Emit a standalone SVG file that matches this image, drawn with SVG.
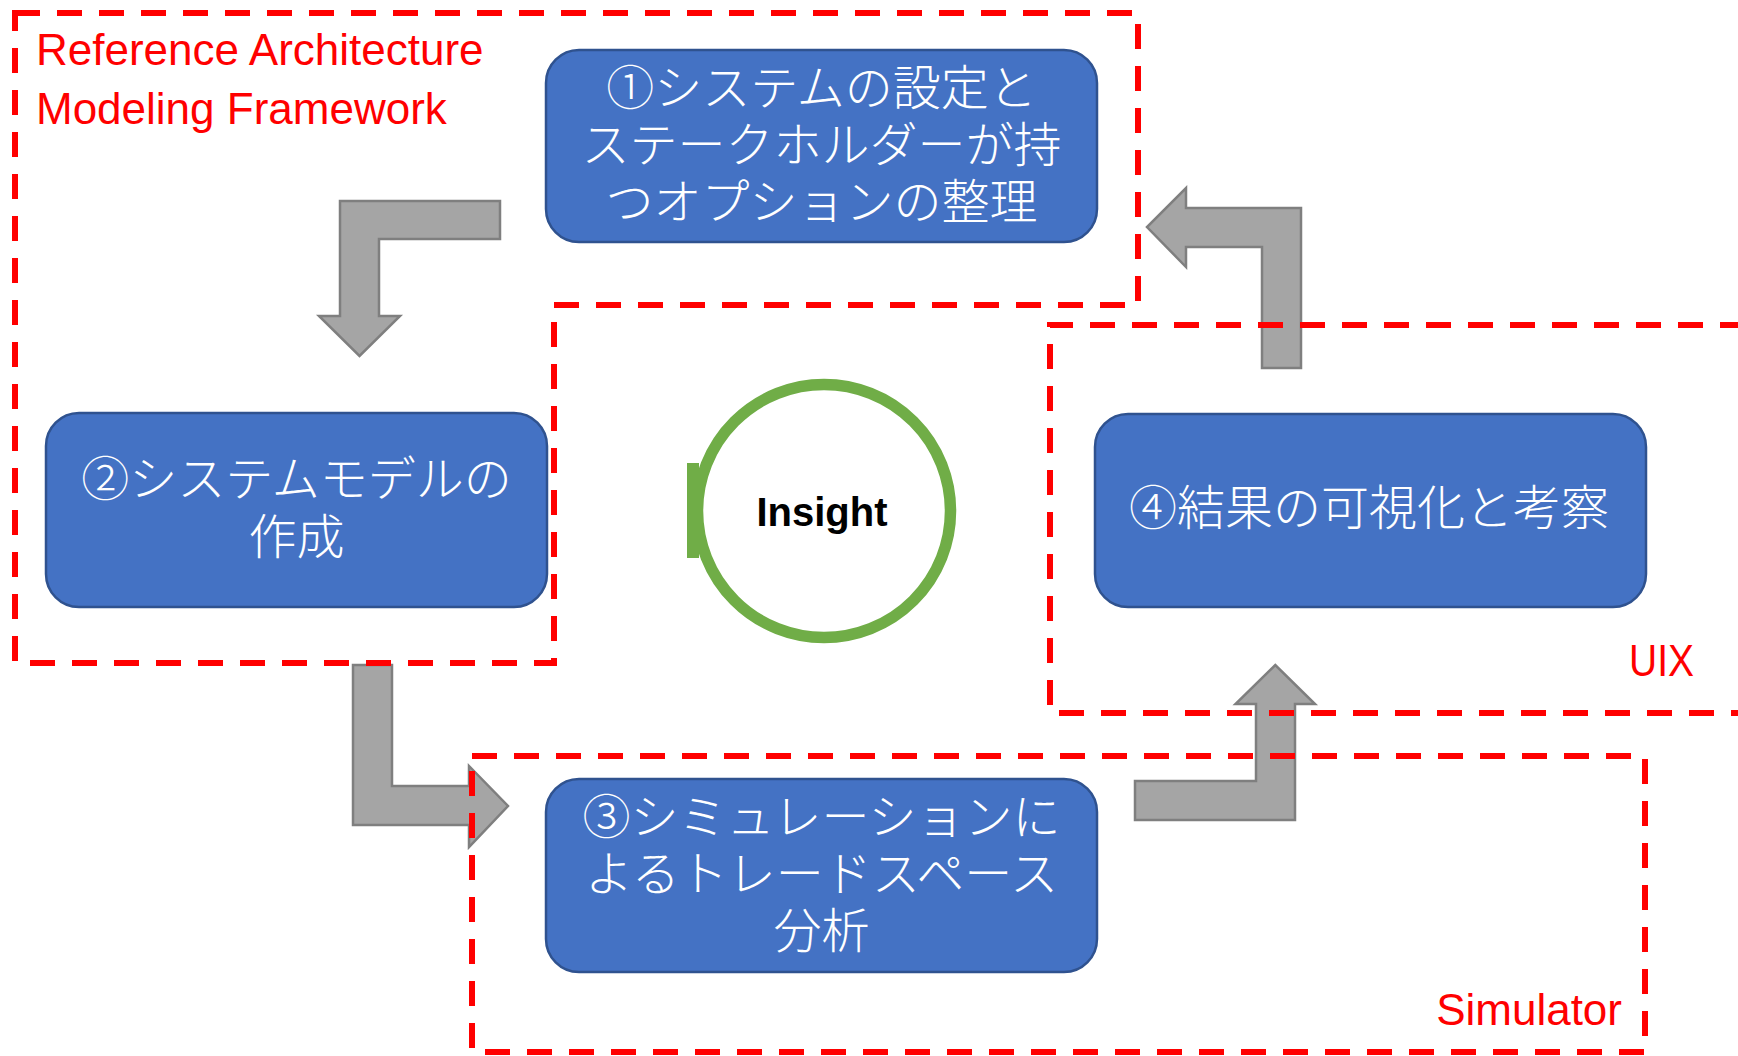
<svg xmlns="http://www.w3.org/2000/svg" width="1738" height="1056" viewBox="0 0 1738 1056">
<style>
.box{fill:#4472C4;stroke:#2F528F;stroke-width:2.5}
.bt{fill:#FFFFFF;font-family:"Noto Sans CJK JP","Noto Sans CJK SC",sans-serif;font-size:48px;font-weight:300;text-anchor:middle}
.arrow{fill:#A5A5A5;stroke:#7F7F7F;stroke-width:2.5;stroke-linejoin:miter}
.frame{fill:none;stroke:#FF0000;stroke-width:6;stroke-dasharray:25 17}
.lbl{fill:#FF0000;font-family:"Liberation Sans",Arial,sans-serif;font-size:44px}
</style>
<rect width="1738" height="1056" fill="#FFFFFF"/>
<g id="connectors">
<polygon class="arrow" points="500,201 340,201 340,316 319,316 359.5,356 400,316 379,316 379,239 500,239"/>
<polygon class="arrow" points="353,665 392,665 392,786 469,786 469,766 508,806 469,847 469,825 353,825"/>
<polygon class="arrow" points="1135,781 1256,781 1256,704 1235.5,704 1275.3,665 1315,704 1295,704 1295,820 1135,820"/>
<polygon class="arrow" points="1301,368 1301,208 1186,208 1186,188 1147,227 1186,267 1186,247 1262,247 1262,368"/>
</g>
<g id="node1">
<rect class="box" x="546" y="50" width="551" height="192" rx="33"/>
<text class="bt" x="821.5" y="104.5">①システムの設定と</text>
<text class="bt" x="821.5" y="161.5">ステークホルダーが持</text>
<text class="bt" x="821.5" y="218.5">つオプションの整理</text>
</g>
<g id="node2">
<rect class="box" x="46" y="413" width="501" height="194" rx="33"/>
<text class="bt" x="296.5" y="496">②システムモデルの</text>
<text class="bt" x="296.5" y="554">作成</text>
</g>
<g id="node3">
<rect class="box" x="546" y="779" width="551" height="193" rx="33"/>
<text class="bt" x="821.5" y="834">③シミュレーションに</text>
<text class="bt" x="821.5" y="890.5">よるトレードスペース</text>
<text class="bt" x="821.5" y="948">分析</text>
</g>
<g id="node4">
<rect class="box" x="1095" y="414" width="551" height="193" rx="33"/>
<text class="bt" x="1369" y="525">④結果の可視化と考察</text>
</g>
<g id="insight">
<circle cx="824" cy="511" r="126.5" fill="#FFFFFF" stroke="#70AD47" stroke-width="11.5"/>
<rect x="687" y="463" width="12" height="95" fill="#70AD47"/>
<text x="822" y="526" fill="#000000" font-family="'Liberation Sans',Arial,sans-serif" font-size="40" font-weight="bold" text-anchor="middle">Insight</text>
</g>
<g id="frame-ramf">
<path class="frame" d="M15,13 L1138,13 L1138,305 L554,305 L554,663 L15,663 Z"/>
<text class="lbl" x="36" y="65">Reference Architecture</text>
<text class="lbl" x="36" y="124">Modeling Framework</text>
</g>
<g id="frame-uix">
<path class="frame" d="M1745,325 L1050,325 L1050,713 L1745,713"/>
<text class="lbl" x="1694" y="676" text-anchor="end" textLength="65" lengthAdjust="spacingAndGlyphs">UIX</text>
</g>
<g id="frame-simulator">
<path class="frame" d="M472,756 L1645,756 L1645,1052 L472,1052 Z"/>
<text class="lbl" x="1622" y="1025" text-anchor="end">Simulator</text>
</g>
</svg>
